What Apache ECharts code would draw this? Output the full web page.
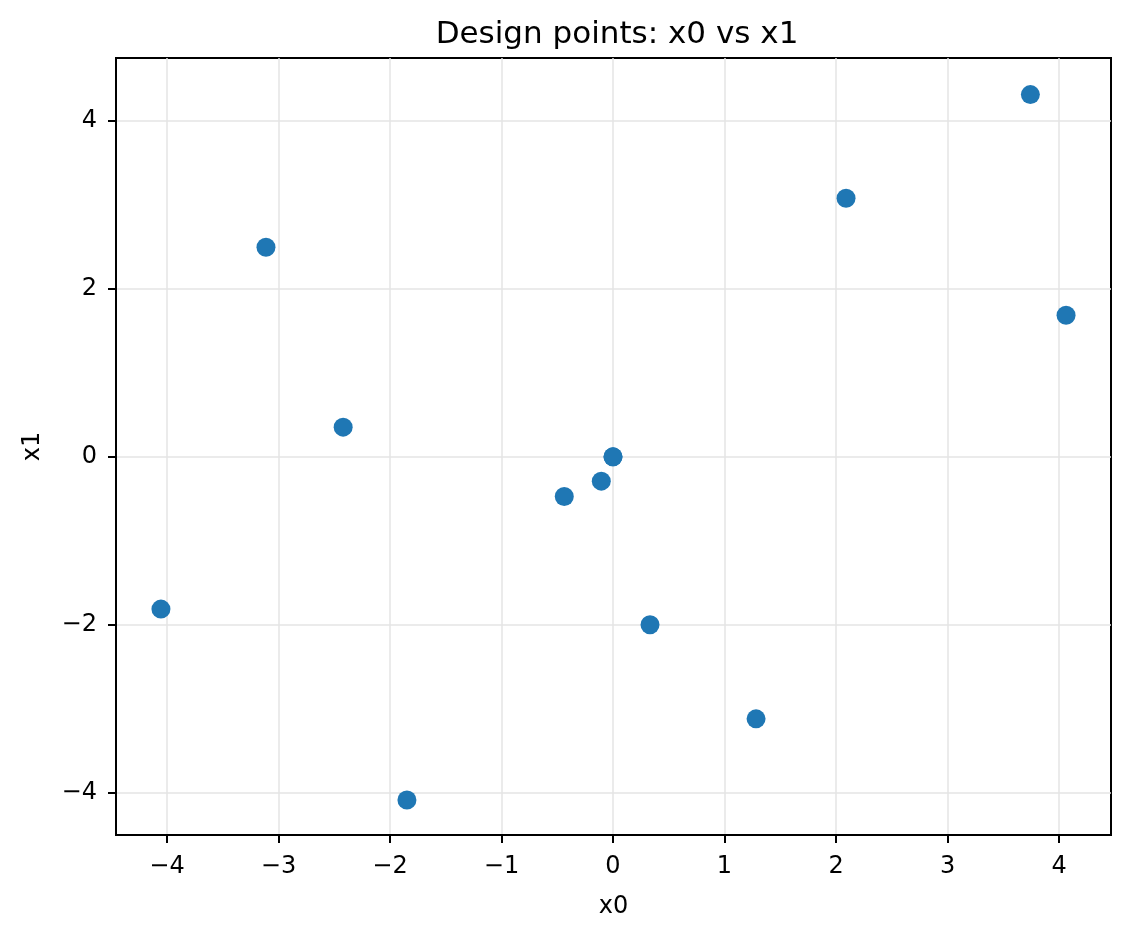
<!DOCTYPE html>
<html>
<head>
<meta charset="utf-8">
<script src="https://cdn.jsdelivr.net/npm/echarts@6/dist/echarts.min.js"></script>
<style>html,body{margin:0;padding:0;background:#fff}#chart{width:1130px;height:938px}</style>
</head>
<body>
<div id="chart"></div>
<script>
const x0Values = [3.743, 2.09, 4.063, -3.112, -2.42, 0.0, 0.0, -0.437, -0.105, 0.332, 1.283, -4.054, -1.848];
const x1Values = [4.314, 3.08, 1.687, 2.496, 0.354, 0.0, 0.0, -0.471, -0.289, -2.0, -3.12, -1.813, -4.087];
const tickValues = [-4, -3, -2, -1, 0, 1, 2, 3, 4];
const yTickValues = [-4, -2, 0, 2, 4];

const points = x0Values.map((v, i) => [v, x1Values[i]]);
const fmt = v => String(v).replace('-', '\u2212');
const font = 'DejaVu Sans';

const chart = echarts.init(document.getElementById('chart'), null, {renderer: 'canvas'});
chart.setOption({
  animation: false,
  backgroundColor: '#ffffff',
  title: {
    text: 'Design points: x0 vs x1',
    left: 612, top: 14, textAlign: 'center',
    textStyle: {fontFamily: font, fontSize: 31, fontWeight: 'normal', color: '#000'}
  },
  grid: {left: 116, right: 19, top: 58, bottom: 103, containLabel: false,
         show: true, borderColor: '#000', borderWidth: 2, backgroundColor: 'transparent'},
  xAxis: {
    type: 'value', min: -4.457, max: 4.466,
    name: 'x0', nameLocation: 'middle', nameGap: 60,
    nameTextStyle: {fontFamily: font, fontSize: 24, color: '#000'},
    axisLine: {show: true, onZero: false, lineStyle: {color: '#000', width: 2}},
    axisTick: {show: true, length: 8, lineStyle: {color: '#000', width: 2}, customValues: tickValues},
    axisLabel: {fontFamily: font, fontSize: 24, color: '#000', margin: 20, customValues: tickValues, formatter: fmt},
    splitLine: {show: true, lineStyle: {color: '#e5e5e5', width: 1.5}}
  },
  yAxis: {
    type: 'value', min: -4.503, max: 4.75,
    name: 'x1', nameLocation: 'middle', nameGap: 71, nameRotate: 90,
    nameTextStyle: {fontFamily: font, fontSize: 24, color: '#000'},
    axisLine: {show: true, onZero: false, lineStyle: {color: '#000', width: 2}},
    axisTick: {show: true, length: 8, lineStyle: {color: '#000', width: 2}, customValues: yTickValues},
    axisLabel: {fontFamily: font, fontSize: 24, color: '#000', margin: 19, customValues: yTickValues, formatter: fmt},
    splitLine: {show: true, lineStyle: {color: '#e5e5e5', width: 1.5}}
  },
  series: [{
    type: 'scatter',
    data: points,
    symbolSize: 19,
    itemStyle: {color: '#1f77b4', opacity: 1}
  }]
});
</script>
</body>
</html>
